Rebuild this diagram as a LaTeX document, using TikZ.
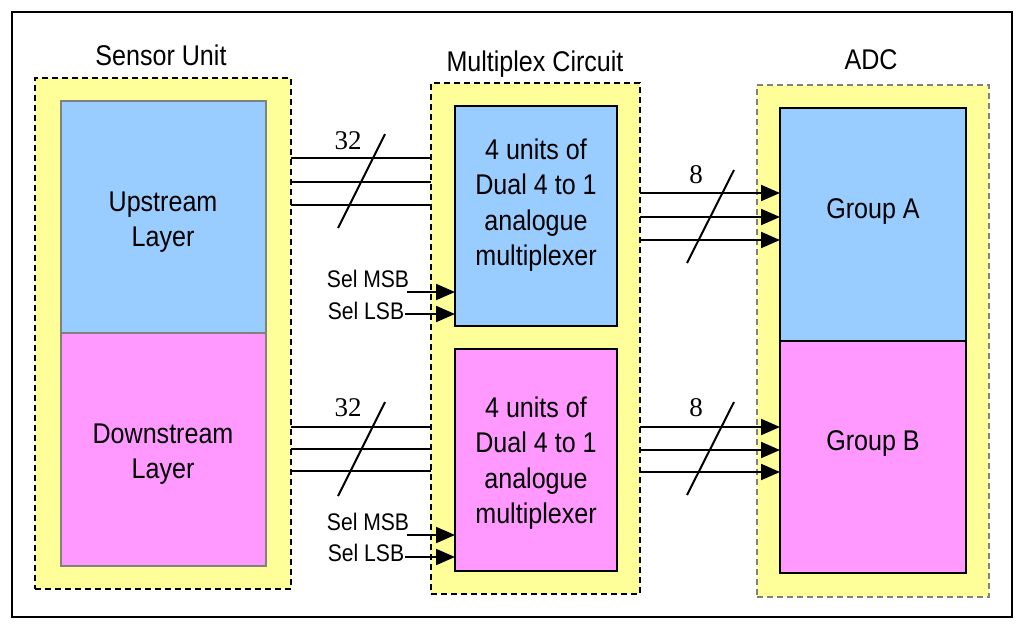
\documentclass[tikz,border=0pt]{standalone}
\usepackage{fontspec}
\setmainfont{Liberation Sans}[FakeStretch=0.88]
\newfontfamily\numfont{Liberation Serif}
\usetikzlibrary{arrows.meta}
\definecolor{yel}{HTML}{FFFF99}
\definecolor{blu}{HTML}{99CCFF}
\definecolor{pnk}{HTML}{FF99FF}
\definecolor{grayb}{HTML}{808080}
\begin{document}
\begin{tikzpicture}[x=1pt,y=-1pt,
  txt/.style={font=\fontsize{28.5}{35.5}\selectfont, align=center, inner sep=0},
  sel/.style={font=\fontsize{24}{28}\selectfont, inner sep=0},
  num/.style={font=\numfont\fontsize{27}{30}\selectfont, inner sep=0},
  area/.style={fill=yel, dashed, dash pattern=on 6pt off 4pt, line width=1.3pt, anchor=north west, outer sep=0, inner sep=0},
  blk/.style={line width=2pt, anchor=north west, outer sep=0, inner sep=0},
  wire/.style={line width=2pt},
  awire/.style={line width=2pt, -{Triangle[length=19pt,width=16pt]}},
  slash/.style={line width=2pt},
]
\useasboundingbox (0,0) rectangle (1024,630);
\fill[white] (0,0) rectangle (1024,630);
\draw[line width=2pt] (12,12) rectangle (1012,617);

% containers
\node[area, draw=black, minimum width=256pt, minimum height=511pt] (su) at (35,78) {};
\node[area, draw=black, minimum width=209pt, minimum height=511pt] (mx) at (431,83) {};
\node[area, draw=grayb, minimum width=232pt, minimum height=512pt] (adc) at (757,85) {};

% sensor layers
\node[blk, draw=grayb, fill=blu, minimum width=205pt, minimum height=232pt] (up) at (61,101) {};
\node[blk, draw=grayb, fill=pnk, minimum width=205pt, minimum height=233pt] (dn) at (61,333) {};
% multiplexers
\node[blk, draw=black, fill=blu, minimum width=162pt, minimum height=220pt] (m1) at (455,106) {};
\node[blk, draw=black, fill=pnk, minimum width=162pt, minimum height=222pt] (m2) at (455,349) {};
% adc groups
\node[blk, draw=black, fill=blu, minimum width=186pt, minimum height=233pt] (ga) at (780,108) {};
\node[blk, draw=black, fill=pnk, minimum width=186pt, minimum height=232pt] (gb) at (780,341) {};

% titles
\node[txt] (tsu) at (161,55) {Sensor Unit};
\node[txt] (tmx) at (535,64) {Multiplex Circuit};
\node[txt] (tadc) at (871,60) {ADC};

% texts
\node[txt] (tup) at (163,222) {Upstream\\Layer};
\node[txt] (tdn) at (163,454) {Downstream\\Layer};
\node[txt] (tm1) at (536,205) {4 units of\\Dual 4 to 1\\analogue\\multiplexer};
\node[txt] (tm2) at (536,463) {4 units of\\Dual 4 to 1\\analogue\\multiplexer};
\node[txt] (tga) at (873,211) {Group A};
\node[txt] (tgb) at (873,443) {Group B};

% 32-bit buses
\foreach \y in {158,182,205} \draw[wire] (su.east |- 0,\y) -- (mx.west |- 0,\y);
\foreach \y in {427,449,471} \draw[wire] (su.east |- 0,\y) -- (mx.west |- 0,\y);
\coordinate (s1a) at (338,228); \coordinate (s1b) at (385,134);
\draw[slash] (s1a) -- (s1b);
\coordinate (s2a) at (338,496); \coordinate (s2b) at (385,402);
\draw[slash] (s2a) -- (s2b);
\node[num] (n32a) at (348,141) {32};
\node[num] (n32b) at (348,408) {32};

% 8-bit buses
\foreach \y in {193,217,240} \draw[awire] (mx.east |- 0,\y) -- (ga.west |- 0,\y);
\foreach \y in {427,450,472} \draw[awire] (mx.east |- 0,\y) -- (gb.west |- 0,\y);
\coordinate (s3a) at (687,263); \coordinate (s3b) at (734,170);
\draw[slash] (s3a) -- (s3b);
\coordinate (s4a) at (687,495); \coordinate (s4b) at (734,402);
\draw[slash] (s4a) -- (s4b);
\node[num] (n8a) at (696,175) {8};
\node[num] (n8b) at (696,408) {8};

% select lines
\node[sel] (msb1) at (368,279) {Sel MSB};
\node[sel] (lsb1) at (366,311) {Sel LSB};
\node[sel] (msb2) at (368,522) {Sel MSB};
\node[sel] (lsb2) at (366,553) {Sel LSB};
\coordinate (cm1) at (407,292);
\coordinate (cl1) at (405,314);
\coordinate (cm2) at (407,535);
\coordinate (cl2) at (405,557);
\draw[awire] (cm1) -- (m1.west |- cm1);
\draw[awire] (cl1) -- (m1.west |- cl1);
\draw[awire] (cm2) -- (m2.west |- cm2);
\draw[awire] (cl2) -- (m2.west |- cl2);
\end{tikzpicture}
\end{document}
